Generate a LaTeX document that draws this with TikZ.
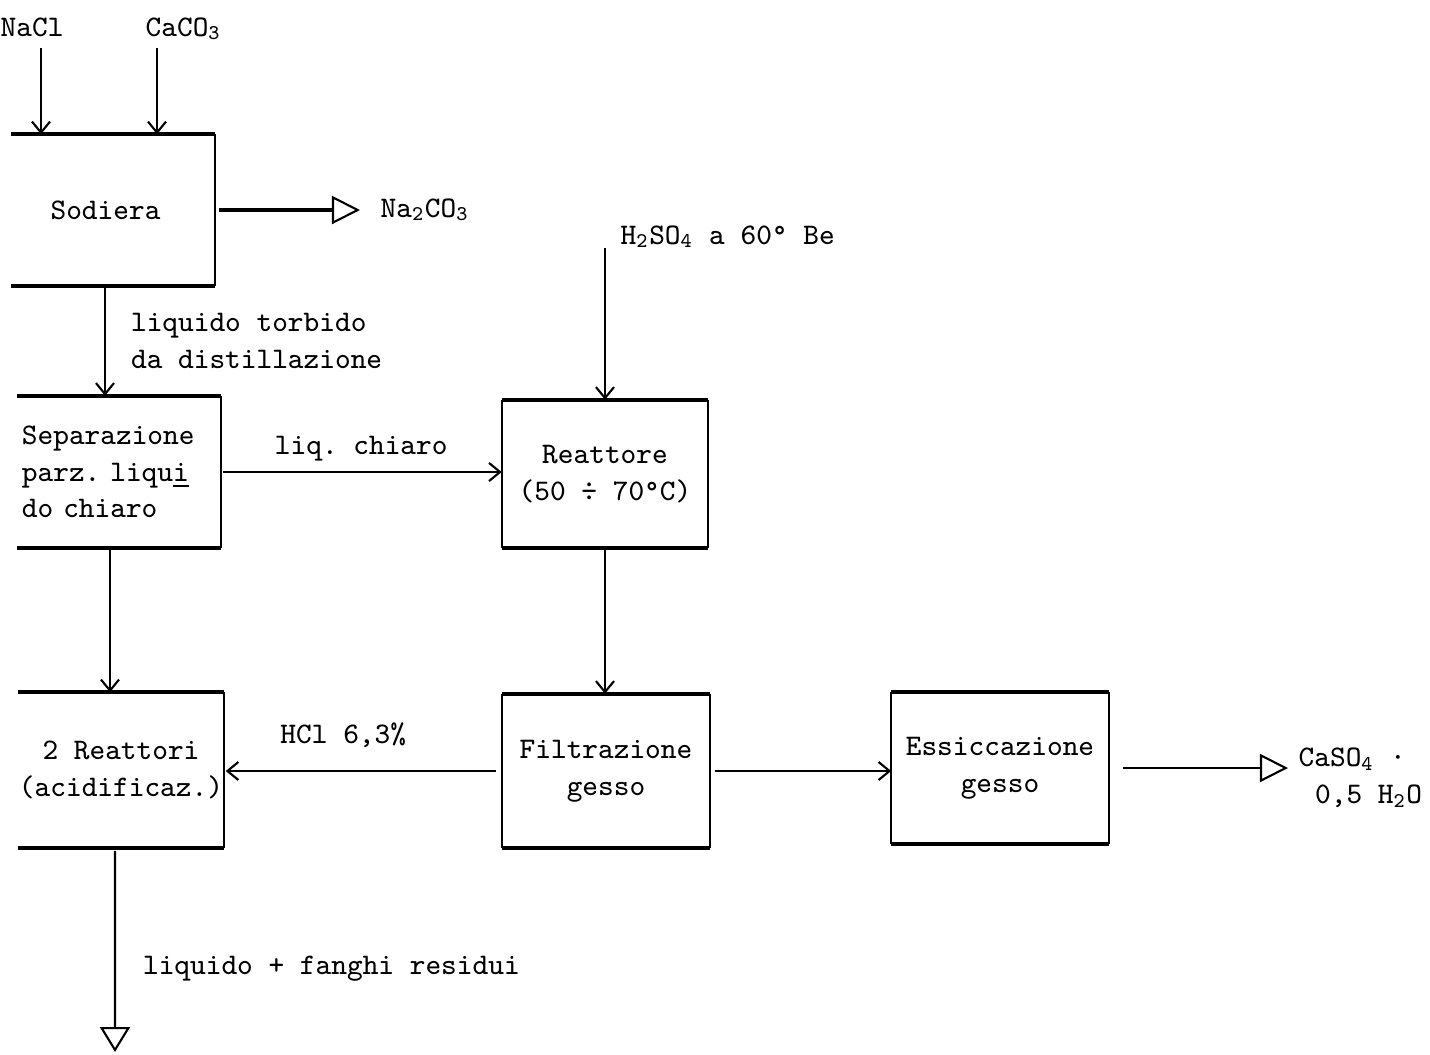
\documentclass[tikz,border=0pt]{standalone}
\usepackage{fontspec}
\usetikzlibrary{arrows.meta,positioning}

\tikzset{
  unit/.style={inner sep=0, align=center},
  lid/.style={line width=1.1pt},
  side/.style={line width=0.45pt},
  flow/.style={line width=0.6pt, -{Straight Barb[length=1.1mm, width=1.8mm]}},
  exit/.style={line width=0.8pt, -{Triangle[open, length=2.8mm, width=2.8mm, line width=0.6pt]}}
}

\begin{document}
\frenchspacing
\begin{tikzpicture}[x=0.01cm, y=-0.01cm, every node/.style={font=\ttfamily\fontsize{8.5}{10.4}\selectfont, inner sep=0}]
  \useasboundingbox (0,0) rectangle (1430,1054);

  % feeds and first plant
  \node[anchor=base west] (nacl) at (0,36) {NaCl};
  \node[anchor=base west] (caco3) at (145,36) {CaCO\textsubscript{3}};
  \coordinate (naclin) at (41,48);
  \coordinate (cacoin) at (157,48);
  \node[unit, minimum width=2.02cm, minimum height=1.5cm] (sod) at (113,210) {Sodiera\hspace*{0.5em}};
  \node[anchor=west] (soda) at (380,210) {Na\textsubscript{2}CO\textsubscript{3}};
  \node[unit, align=left, text width=1.94cm, minimum width=2.02cm, minimum height=1.51cm] (sep) at (119,472) {Separazione\\parz. liqu\underline{i}\\do chiaro};
  \node[unit, minimum width=2.03cm, minimum height=1.54cm] (rea2) at (121,770) {2 Reattori\\(acidificaz.)};

  % gypsum line
  \node[anchor=base west] (acid) at (620,244) {H\textsubscript{2}SO\textsubscript{4} a 60° Be};
  \coordinate (acidin) at (605,248);
  \node[unit, minimum width=2.05cm, minimum height=1.47cm] (reat) at (605,474) {Reattore\\(50 ÷ 70°C)};
  \node[unit, minimum width=2.07cm, minimum height=1.53cm] (filt) at (606,771) {Filtrazione\\gesso};
  \node[unit, minimum width=2.16cm, minimum height=1.5cm] (essi) at (1000,768) {Essiccazione\\gesso};
  \node[anchor=west, align=left] (gypsum) at (1298,778) {CaSO\textsubscript{4} ·\\\hspace*{0.55em}0,5 H\textsubscript{2}O};

  \coordinate (sodout) at ([xshift=-0.08cm]sod.south);
  \coordinate (sepout) at ([xshift=-0.09cm]sep.south);
  \coordinate (rea2out) at ([xshift=-0.06cm]rea2.south);
  \coordinate (drain) at (115,1052);

  % box outlines (thick lids, thin sides)
  \foreach \b in {sod,sep,rea2,reat,filt,essi} {
    \draw[lid] (\b.north west) -- (\b.north east);
    \draw[lid] (\b.south west) -- (\b.south east);
    \draw[side] (\b.north east) -- (\b.south east);
  }
  \foreach \b in {reat,filt,essi}
    \draw[side] (\b.north west) -- (\b.south west);

  % streams
  \draw[flow] (naclin) -- (naclin |- sod.north);
  \draw[flow] (cacoin) -- (cacoin |- sod.north);
  \draw[exit, line width=0.9pt, shorten <=0.04cm, shorten >=0.2cm] (sod.east) -- (sod.east -| soda.west);
  \draw[flow] (sodout) -- (sodout |- sep.north) node[midway, right=0.25cm, align=left] {liquido torbido\\da distillazione};
  \draw[flow, shorten <=0.02cm] (sep.east) -- (sep.east -| reat.west) node[midway, above=0.1cm] {liq. chiaro};
  \draw[flow] (acidin) -- (acidin |- reat.north);
  \draw[flow] (reat.south) -- (reat.south |- filt.north);
  \draw[flow] (sepout) -- (sepout |- rea2.north);
  \draw[flow, shorten <=0.06cm, shorten >=0.02cm] (filt.west) -- (filt.west -| rea2.east) node[pos=0.57, above=0.22cm] {HCl 6,3\%};
  \draw[flow, shorten <=0.05cm] (filt.east) -- (filt.east -| essi.west);
  \draw[exit, shorten <=0.14cm, shorten >=0.1cm] (essi.east) -- (essi.east -| gypsum.west);
  \draw[exit, -{Triangle[open, length=2.5mm, width=3mm, line width=0.6pt]}, line width=0.6pt, shorten <=0.03cm] (rea2out) -- (drain) node[pos=0.59, right=0.27cm] {liquido + fanghi residui};
\end{tikzpicture}
\end{document}
